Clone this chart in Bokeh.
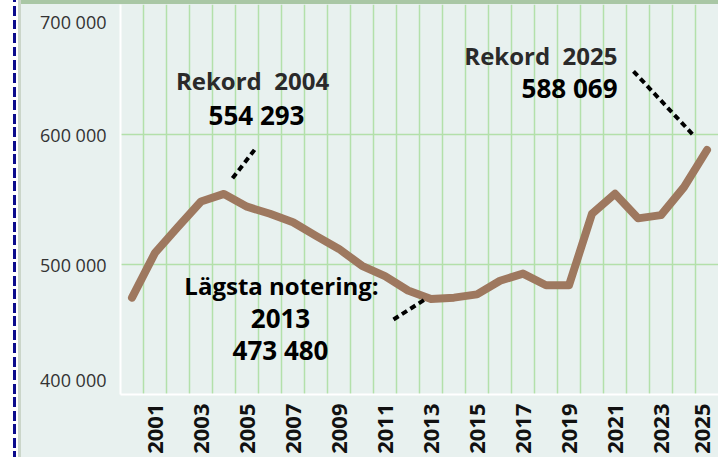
import math
from bokeh.plotting import figure
from bokeh.models import FixedTicker, Label, InlineStyleSheet
from bokeh.embed import file_html
from bokeh.resources import INLINE

# ---- data ----
years = list(range(2000, 2026))
applicants = [474500, 509000, 529000, 548500, 554293, 544500, 539000, 532500,
              522000, 512000, 499000, 491000, 480000, 473480, 474500, 477000,
              487500, 493000, 484000, 484000, 539000, 554500, 535500, 538000,
              559500, 588069]
x_tick_years = list(range(2001, 2026, 2))
y_tick_values = [400000, 500000, 600000, 700000]
y_tick_labels = ["400 000", "500 000", "600 000", "700 000"]

FONT = "Open Sans"
BG = "#e8f1ef"
GRID = "#b3e0aa"
LINE = "#9e785f"

x_start, x_end = years[0] - 0.5, years[-1] + 0.5
y_start, y_end = y_tick_values[0], y_tick_values[-1]
FRAME_H = 390
PX_YEAR = 598 / (x_end - x_start)          # pixels per year
PX_UNIT = FRAME_H / (y_end - y_start)      # pixels per unit on y

css = InlineStyleSheet(css="""
:host {
  background:
    repeating-linear-gradient(to bottom, #0b0b8c 0px, #0b0b8c 2.2px, transparent 2.2px, transparent 6px, #0b0b8c 6px, #0b0b8c 13.5px) 13px 0px / 3px 100% no-repeat,
    linear-gradient(#a9c7a5, #a9c7a5) 21px 0px / 100% 4px no-repeat,
    linear-gradient(to right, #ffffff 0px, #ffffff 18px, #cbd6ca 18px, #cbd6ca 21px, #e8f1ef 21px);
}
""")

p = figure(width=718, height=457, x_range=(x_start, x_end), y_range=(y_start, y_end),
           output_backend="svg", toolbar_location=None,
           min_border_left=120, min_border_right=0, min_border_top=4, min_border_bottom=63,
           stylesheets=[css])
p.background_fill_color = BG
p.border_fill_color = None
p.outline_line_color = None

# grid: vertical lines at year boundaries
p.xgrid.ticker = FixedTicker(ticks=[y + 0.5 for y in years[:-1]])
p.xgrid.grid_line_color = GRID
p.xgrid.grid_line_width = 1.5
p.ygrid.ticker = FixedTicker(ticks=y_tick_values)
p.ygrid.grid_line_color = GRID
p.ygrid.grid_line_width = 1.5

# x axis: the last label is kept inside the chart edge (flush), like the original
x_label_pos = list(x_tick_years[:-1]) + [round(x_tick_years[-1] - 4.5 / PX_YEAR, 3)]
p.xaxis.ticker = FixedTicker(ticks=x_label_pos)
p.xaxis.major_label_overrides = {x_label_pos[-1]: str(x_tick_years[-1])}
p.xaxis.major_label_orientation = math.pi / 2
p.xaxis.major_label_text_font = FONT
p.xaxis.major_label_text_font_style = "bold"
p.xaxis.major_label_text_font_size = "22px"
p.xaxis.major_label_text_color = "#111111"
p.xaxis.major_label_standoff = 9
p.xaxis.major_tick_out = 0
p.xaxis.major_tick_in = 0
p.xaxis.major_tick_line_color = None
p.xaxis.minor_tick_line_color = None
p.xaxis.axis_line_color = "white"
p.xaxis.axis_line_width = 2

# y axis: end labels are kept inside the plot height (flush), like the original
label_pos = []
for i, v in enumerate(y_tick_values):
    if i == 0:
        label_pos.append(int(round(v + 15 / PX_UNIT)))
    elif i == len(y_tick_values) - 1:
        label_pos.append(int(round(v - 17 / PX_UNIT)))
    else:
        label_pos.append(v)
p.yaxis.ticker = FixedTicker(ticks=label_pos)
p.yaxis.major_label_overrides = {pos: t for pos, t in zip(label_pos, y_tick_labels)}
p.yaxis.major_label_text_font = FONT
p.yaxis.major_label_text_font_size = "18px"
p.yaxis.major_label_text_color = "#333333"
p.yaxis.major_label_standoff = 14
p.yaxis.major_tick_out = 0
p.yaxis.major_tick_in = 0
p.yaxis.major_tick_line_color = None
p.yaxis.minor_tick_line_color = None
p.yaxis.axis_line_color = "white"
p.yaxis.axis_line_width = 2

# main line
p.line(years, applicants, line_color=LINE, line_width=8, line_join="round", line_cap="round")

def fmt(v):
    return f"{v:,}".replace(",", " ")

def note(year, val, dx, dy, text, size, color, align="center"):
    p.add_layout(Label(x=year, y=val, x_offset=dx, y_offset=dy, text=text,
                       text_align=align, text_baseline="middle",
                       text_font=FONT, text_font_style="bold",
                       text_font_size=size, text_color=color))

def leader(year, val, dx0, dy0, dx1, dy1):
    p.segment(x0=[year + dx0 / PX_YEAR], y0=[val + dy0 / PX_UNIT],
              x1=[year + dx1 / PX_YEAR], y1=[val + dy1 / PX_UNIT],
              line_color="black", line_width=4, line_dash="6 4")

# record 2004 (max of first decade)
early = [(v, y) for y, v in zip(years, applicants) if y <= 2010]
v04, y04 = max(early)
note(y04, v04, 28.5, 113, f"Rekord\u00a0 {y04}", "24px", "#2a2a2a")
note(y04, v04, 32.5, 79, fmt(v04), "26px", "black")
leader(y04, v04, 8.5, 15.6, 32.5, 46.6)

# lowest value
vmin, ymin = min(zip(applicants, years))
note(ymin, vmin, -149.5, 13.5, "Lägsta notering:", "24px", "black")
note(ymin, vmin, -150.5, -19.5, str(ymin), "26px", "black")
note(ymin, vmin, -150.5, -51.5, fmt(vmin), "26px", "black")
leader(ymin, vmin, -37.5, -20.5, -4.5, 0.5)

# record 2025
vlast, ylast = applicants[-1], years[-1]
note(ylast, vlast, -89.5, 95, f"Rekord\u00a0 {ylast}", "24px", "#2a2a2a", align="right")
note(ylast, vlast, -89.5, 62, fmt(vlast), "26px", "black", align="right")
leader(ylast, vlast, -73.5, 78.7, -13.5, 14.7)

open("out.html", "w").write(file_html(p, INLINE))
